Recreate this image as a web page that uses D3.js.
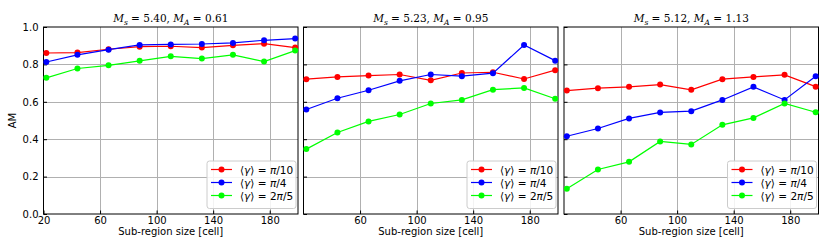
<!DOCTYPE html>
<html><head><meta charset="utf-8">
<script src="https://cdn.jsdelivr.net/npm/d3@7"></script>
<style>body{margin:0;background:#fff}text{font-family:"DejaVu Sans",sans-serif}</style>
</head><body>
<svg id="c" width="831" height="243"></svg>
<script>
const sizes = [22, 44, 66, 88, 110, 132, 154, 176, 198];
const titles = [
  {ms:"5.40", ma:"0.61"},
  {ms:"5.23", ma:"0.95"},
  {ms:"5.12", ma:"1.13"}
];
const seriesNames = ["π/10", "π/4", "2π/5"];
const seriesColors = ["#ff0000", "#0000ff", "#00ff00"];
const panel1 = [
  [0.861, 0.863, 0.881, 0.895, 0.897, 0.890, 0.902, 0.911, 0.890],
  [0.813, 0.851, 0.879, 0.904, 0.907, 0.909, 0.915, 0.929, 0.938],
  [0.728, 0.778, 0.795, 0.819, 0.843, 0.831, 0.851, 0.815, 0.874]
];
const panel2 = [
  [0.721, 0.733, 0.740, 0.746, 0.715, 0.754, 0.758, 0.722, 0.769],
  [0.559, 0.619, 0.662, 0.712, 0.746, 0.737, 0.753, 0.904, 0.820],
  [0.347, 0.436, 0.495, 0.532, 0.591, 0.610, 0.665, 0.674, 0.616]
];
const panel3 = [
  [0.660, 0.673, 0.680, 0.692, 0.664, 0.721, 0.733, 0.744, 0.681],
  [0.416, 0.457, 0.511, 0.543, 0.550, 0.610, 0.680, 0.610, 0.737],
  [0.135, 0.238, 0.279, 0.388, 0.372, 0.477, 0.514, 0.591, 0.544]
];
const yTicks = [0, 0.2, 0.4, 0.6, 0.8, 1.0];
const xTicksFirst = [20, 60, 100, 140, 180];
const xTicksOther = [60, 100, 140, 180];
const panels = [panel1, panel2, panel3];

const svg = d3.select("#c");
const lefts = [43.5, 303.5, 564];
const pw = 254.5, yTop = 27, yBot = 214;
const y = d3.scaleLinear().domain([0, 1]).range([yBot, yTop]);

panels.forEach((data, pi) => {
  const x = d3.scaleLinear().domain([20, 200]).range([lefts[pi], lefts[pi] + pw]);
  const g = svg.append("g");
  const xt = pi === 0 ? xTicksFirst : xTicksOther;
  // grid
  g.selectAll(".gx").data(xt.filter(t => t > 20)).join("line")
    .attr("x1", d => Math.round(x(d)) + 0.5).attr("x2", d => Math.round(x(d)) + 0.5)
    .attr("y1", yTop).attr("y2", yBot).attr("stroke", "#b0b0b0").attr("stroke-width", 1);
  g.selectAll(".gy").data(yTicks.filter(t => t > 0 && t < 1)).join("line")
    .attr("y1", d => Math.round(y(d)) + 0.5).attr("y2", d => Math.round(y(d)) + 0.5)
    .attr("x1", x(20)).attr("x2", x(200)).attr("stroke", "#b0b0b0").attr("stroke-width", 1);
  // axes with inward ticks
  const ax = d3.axisBottom(x).tickValues(xt).tickSize(-3.5).tickPadding(2.5).tickFormat(d3.format("d"));
  const axG = g.append("g").attr("transform", `translate(0,${yBot})`).call(ax);
  const ay = d3.axisLeft(y).tickValues(yTicks).tickSize(-3.5).tickPadding(5).tickFormat(d3.format(".1f"));
  const ayG = g.append("g").attr("transform", `translate(${x(20)},0)`).call(ay);
  [axG, ayG].forEach(a => {
    a.select(".domain").remove();
    a.selectAll("text").attr("font-size", 10).attr("fill", "#000").style("font-family", "DejaVu Sans");
    a.selectAll("line").attr("stroke", "#000");
  });
  if (pi > 0) ayG.selectAll("text").remove();
  // frame
  g.append("rect").attr("x", x(20)).attr("y", yTop).attr("width", pw).attr("height", yBot - yTop)
    .attr("fill", "none").attr("stroke", "#000").attr("stroke-width", 1);
  // title
  const t = titles[pi];
  const tt = g.append("text").attr("x", x(20) + pw / 2).attr("y", 22).attr("text-anchor", "middle")
    .attr("font-size", 10.5).style("font-family", "DejaVu Serif");
  tt.append("tspan").attr("font-style", "italic").text("M");
  tt.append("tspan").attr("font-style", "italic").attr("font-size", 7.5).attr("dy", 2.5).text("s");
  tt.append("tspan").attr("dy", -2.5).text(" = " + t.ms + ", ");
  tt.append("tspan").attr("font-style", "italic").text("M");
  tt.append("tspan").attr("font-style", "italic").attr("font-size", 7.5).attr("dy", 2.5).text("A");
  tt.append("tspan").attr("dy", -2.5).text(" = " + t.ma);
  // series
  data.forEach((vals, si) => {
    const pts = sizes.map((s, i) => [x(s), y(vals[i])]);
    g.append("path").attr("d", d3.line()(pts)).attr("fill", "none")
      .attr("stroke", seriesColors[si]).attr("stroke-width", 1.2);
    g.selectAll(null).data(pts).join("circle").attr("cx", d => d[0]).attr("cy", d => d[1])
      .attr("r", 3).attr("fill", seriesColors[si]);
  });
  // legend
  const lx = x(200) - 91, ly = 161;
  g.append("rect").attr("x", lx).attr("y", ly).attr("width", 89).attr("height", 47.5).attr("rx", 2.5)
    .attr("fill", "#fff").attr("fill-opacity", 0.85).attr("stroke", "#cccccc").attr("stroke-width", 1);
  seriesNames.forEach((nm, si) => {
    const ry = ly + 8.5 + si * 13;
    g.append("line").attr("x1", lx + 4).attr("x2", lx + 25).attr("y1", ry).attr("y2", ry)
      .attr("stroke", seriesColors[si]).attr("stroke-width", 1.2);
    g.append("circle").attr("cx", lx + 14.5).attr("cy", ry).attr("r", 3).attr("fill", seriesColors[si]);
    const tx = g.append("text").attr("x", lx + 33).attr("y", ry + 4).attr("font-size", 10.5);
    tx.append("tspan").text("⟨");
    tx.append("tspan").attr("font-style", "italic").text("γ");
    tx.append("tspan").text("⟩ = ");
    const m = nm.match(/^(\d*)π(.*)$/);
    tx.append("tspan").text(m[1]);
    tx.append("tspan").attr("font-style", "italic").text("π");
    tx.append("tspan").text(m[2]);
  });
  // x label
  g.append("text").attr("x", x(20) + pw / 2).attr("y", 235).attr("text-anchor", "middle")
    .attr("font-size", 10).text("Sub-region size [cell]");
});
svg.append("text").attr("transform", `translate(16,${(yTop + yBot) / 2}) rotate(-90)`)
  .attr("text-anchor", "middle").attr("font-size", 10).text("AM");
</script>
</body></html>
